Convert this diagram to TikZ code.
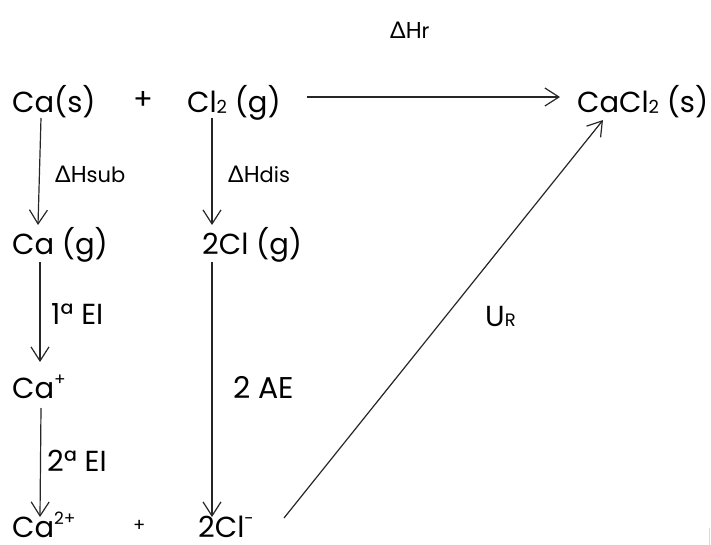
\documentclass[tikz,border=0pt]{standalone}
\usepackage{fontspec}
\setmainfont{Poppins}
\newfontfamily\grkfont{Lato}
\usetikzlibrary{arrows.meta,calc}
\newcommand\bigtxt{\fontsize{29}{29}\selectfont}
\newcommand\labtxt{\fontsize{23}{23}\selectfont}
\newcommand\Dl{{\grkfont Δ}}
\newcommand\mysup[1]{\raisebox{0.42em}{\fontsize{17}{17}\selectfont #1}}
\newcommand\mysub[1]{\raisebox{-0.02em}{\fontsize{18}{18}\selectfont #1}}
\newcommand\labsub[1]{{\fontsize{21}{21}\selectfont #1}}
\tikzset{
  chem/.style={anchor=base west,inner sep=0pt,font=\bigtxt},
  lab/.style={anchor=base west,inner sep=0pt,font=\labtxt},
  arr/.style={draw=black!85,line width=1.2pt,-{Straight Barb[length=14pt,width=18pt,line width=1.2pt]}},
}
\begin{document}
\begin{tikzpicture}[x=1pt,y=-1pt]
\useasboundingbox (0,0) rectangle (711,545);
% species
\node[chem] (cas) at (12,113) {Ca(s)};
\node[chem] (plus1) at (133,110) {+};
\node[chem] (cl2) at (187,113) {Cl\mysub{2} (g)};
\node[chem] (cacl2) at (577,113) {CaCl\mysub{2} (s)};
\node[chem] (cag) at (12,254) {Ca (g)};
\node[chem] (clg) at (202,254) {2Cl (g)};
\node[chem] (cap) at (12,398) {Ca\mysup{+}};
\node[chem,text depth=0pt] (ca2) at (12,537) {Ca\mysup{2+}};
\node[anchor=base west,inner sep=0pt,font=\fontsize{18}{18}\selectfont] (plus2) at (133,531) {+};
\node[chem,text depth=0pt] (clm) at (198,537) {2Cl\mysup{-}};
% labels
\node[lab] (lhr) at (390,39) {\Dl H\labsub{r}};
\node[lab] (lsub) at (55,183) {\Dl H\labsub{sub}};
\node[lab] (ldis) at (228,183) {\Dl H\labsub{dis}};
\node[chem] (lei1) at (51,324) {1ª EI};
\node[chem,font=\fontsize{30}{30}\selectfont] (lae) at (233,398) {2 AE};
\node[chem] (lei2) at (47,471) {2ª EI};
\node[chem] (lur) at (485,326) {U\mysub{R}};
% arrows
\draw[arr] ($(cas.base west)+(29,5)$) -- ($(cag.base west)+(26,-29)$);
\draw[arr] ($(cl2.base west)+(25,5)$) -- ($(clg.base west)+(10,-29)$);
\draw[arr] ($(cag.base west)+(28,8)$) -- ($(cap.base west)+(28,-36)$);
\draw[arr] ($(cap.base west)+(29,10)$) -- ($(ca2.base west)+(28,-20)$);
\draw[arr] ($(clg.base west)+(10,8)$) -- ($(clm.base west)+(14,-20)$);
\draw[arr] ($(cl2.base west)+(120,-16)$) -- ($(cacl2.base west)+(-17,-16)$);
\draw[arr] ($(clm.base west)+(86,-19)$) -- ($(cacl2.base west)+(26,7)$);
% faint edge mark
\draw[gray!30,line width=1pt] (709.5,528) -- (709.5,545);
\end{tikzpicture}
\end{document}
